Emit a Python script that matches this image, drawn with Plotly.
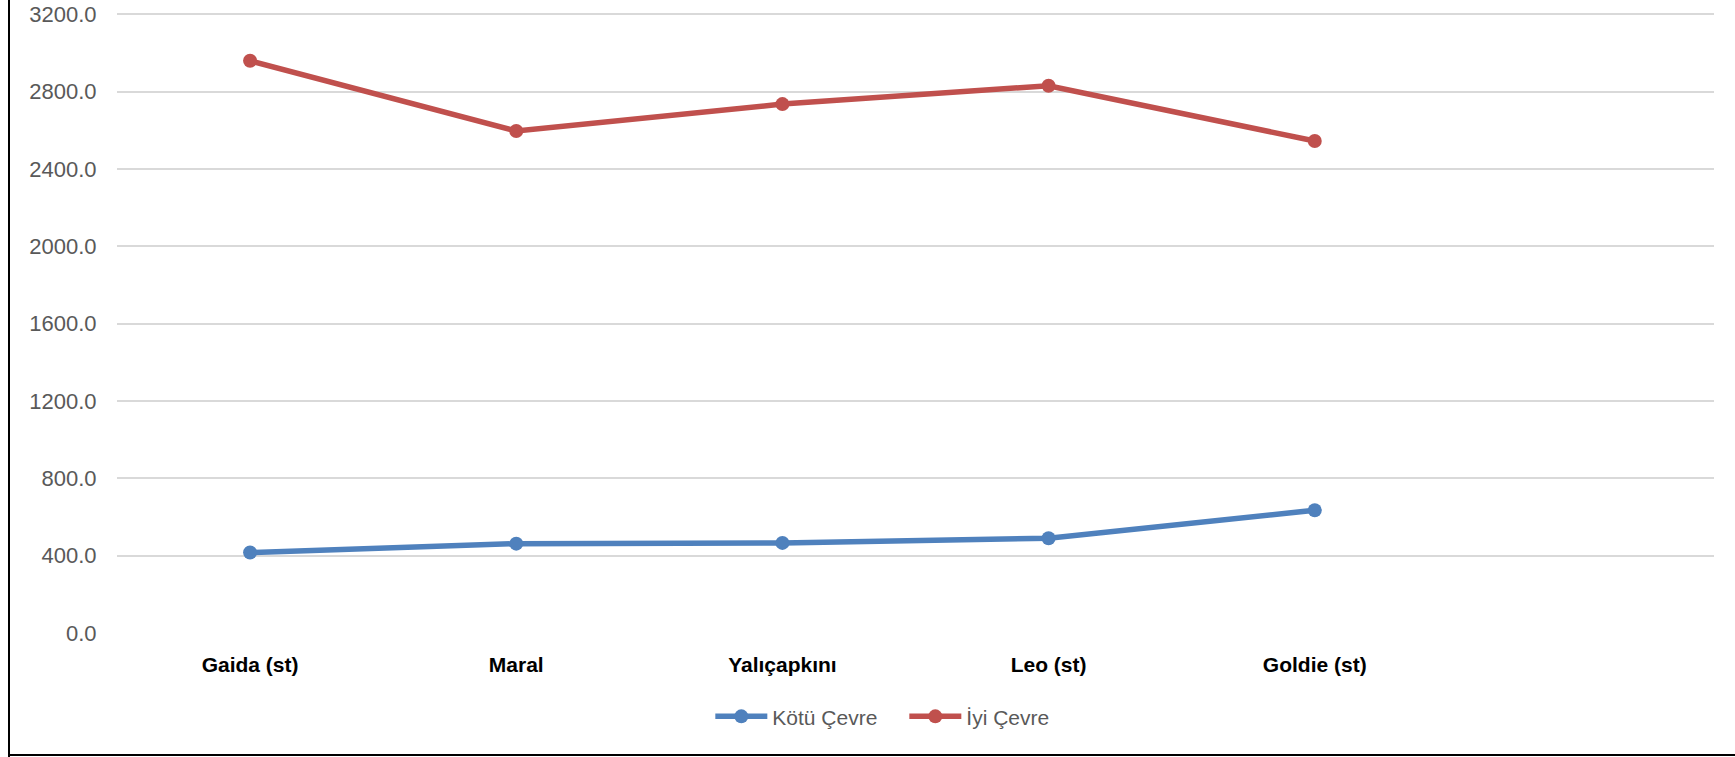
import plotly.graph_objects as go

categories = ["Gaida (st)", "Maral", "Yalıçapkını", "Leo (st)", "Goldie (st)"]
kotu_cevre = [416, 462, 466, 490, 635]
iyi_cevre = [2959, 2596, 2735, 2830, 2544]
y_ticks = [0, 400, 800, 1200, 1600, 2000, 2400, 2800, 3200]

x_pos = list(range(len(categories)))
FONT = "Liberation Sans"

W, H = 1735, 757
L, R, T, B = 117, 21, 13, 124
PH = H - T - B
PW = W - L - R

fig = go.Figure()
fig.add_trace(go.Scatter(
    x=x_pos, y=kotu_cevre, name="Kötü Çevre", mode="lines+markers",
    line=dict(color="#4F81BD", width=5.5), marker=dict(size=14, color="#4F81BD"),
))
fig.add_trace(go.Scatter(
    x=x_pos, y=iyi_cevre, name="İyi Çevre", mode="lines+markers",
    line=dict(color="#C0504D", width=5.5), marker=dict(size=14, color="#C0504D"),
))

fig.update_layout(
    width=W, height=H,
    margin=dict(l=L, r=R, t=T, b=B),
    paper_bgcolor="white", plot_bgcolor="white",
    font=dict(family=FONT, size=21, color="#595959"),
    showlegend=True,
    legend=dict(orientation="h", x=0.493, xanchor="center", y=-0.135, yanchor="middle",
                font=dict(size=21, color="#595959"), entrywidth=127, itemwidth=52),
    xaxis=dict(
        range=[-0.5, 5.5], tickmode="array", tickvals=x_pos, ticktext=categories,
        showgrid=False, zeroline=False, showline=False, automargin=False,
        tickfont=dict(family=FONT, size=21, color="black", weight="bold"),
        ticks="outside", ticklen=13, tickcolor="rgba(0,0,0,0)",
    ),
    yaxis=dict(
        range=[0, 3206], tickmode="array", tickvals=y_ticks, tickformat=".1f",
        showgrid=True, gridcolor="#d9d9d9", gridwidth=2,
        zeroline=False, showline=False, automargin=False,
        ticklabeloverflow="allow",
        tickfont=dict(family=FONT, size=22, color="#595959"),
        ticks="outside", ticklen=15, tickcolor="rgba(0,0,0,0)",
    ),
    shapes=[
        dict(type="line", xref="paper", yref="paper", x0=(9 - L) / PW, x1=(9 - L) / PW,
             y0=-(B + 2) / PH, y1=1 + (T + 2) / PH, line=dict(color="black", width=2)),
        dict(type="line", xref="paper", yref="paper", x0=(9 - L) / PW, x1=1 + (R + 2) / PW,
             y0=-(B - 2) / PH, y1=-(B - 2) / PH, line=dict(color="black", width=2)),
    ],
)

fig.write_html(
    "out.html",
    config={"displayModeBar": False},
    post_script="document.body.style.margin='0';document.body.style.overflow='hidden';",
)
